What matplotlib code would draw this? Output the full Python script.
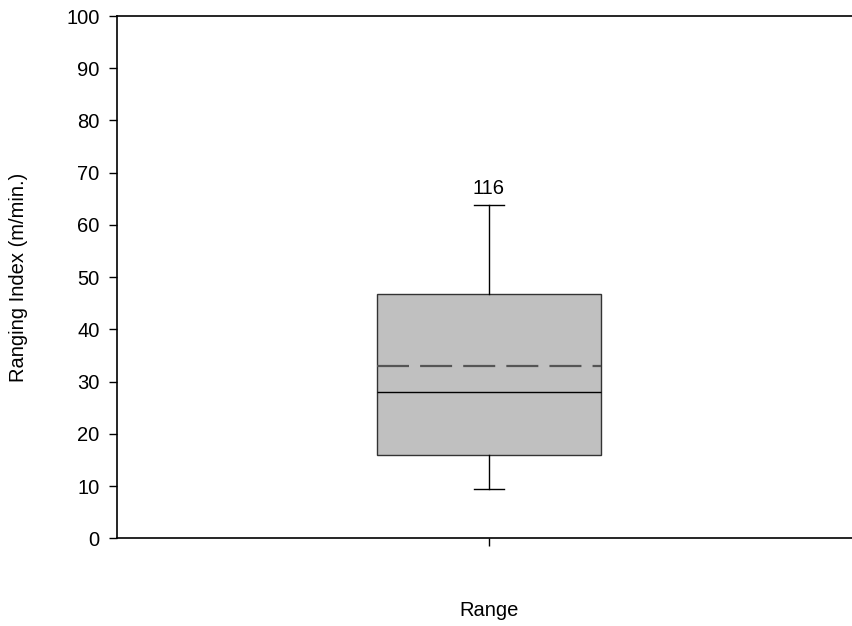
import matplotlib.pyplot as plt

plt.rcParams['font.family'] = ['Liberation Sans', 'DejaVu Sans']

# summary statistics of the ranging index
group = "Range"
n_obs = 116
whisker_low = 9.4
q1 = 15.9
median = 28.0
mean = 32.9
q3 = 46.8
whisker_high = 63.9

fig = plt.figure(figsize=(8.52, 6.26), dpi=100)
# axes run past the right edge of the canvas
ax = fig.add_axes([117 / 852, 1 - 538.3 / 626, (861 - 117) / 852, (538.3 - 16) / 626])

stats = [{
    'label': group,
    'whislo': whisker_low, 'q1': q1, 'med': median,
    'mean': mean, 'q3': q3, 'whishi': whisker_high, 'fliers': [],
}]
ax.bxp(stats, positions=[1], widths=0.602, patch_artist=True,
       showmeans=True, meanline=True, showfliers=False,
       boxprops=dict(facecolor='#c0c0c0', edgecolor='#333333', linewidth=1.0),
       medianprops=dict(color='black', linewidth=1.0),
       meanprops=dict(color='#555555', linewidth=1.6, linestyle=(0, (14.4, 5))),
       whiskerprops=dict(color='black', linewidth=1.0),
       capprops=dict(color='black', linewidth=1.0),
       capwidths=0.08)

ax.text(1, whisker_high + 1.3, str(n_obs), ha='center', va='bottom', fontsize=14.5)

ax.set_xlim(0, 2)
ax.set_ylim(0, 100)
ax.set_yticks(range(0, 101, 10))
ax.set_xticks([1])
ax.set_xticklabels([])
ax.tick_params(direction='out', length=6, width=1.0, labelsize=14.5, pad=6.5)

ax.spines['right'].set_visible(False)
for s in ('left', 'top', 'bottom'):
    ax.spines[s].set_linewidth(1.2)

ax.set_ylabel("Ranging Index (m/min.)", fontsize=14.5)
ax.yaxis.set_label_coords((28 - 117) / 744, 0.5)
fig.text(489 / 852, 1 - 610 / 626, group, ha='center', va='center', fontsize=14.5)

fig.savefig("out.png", dpi=100)
